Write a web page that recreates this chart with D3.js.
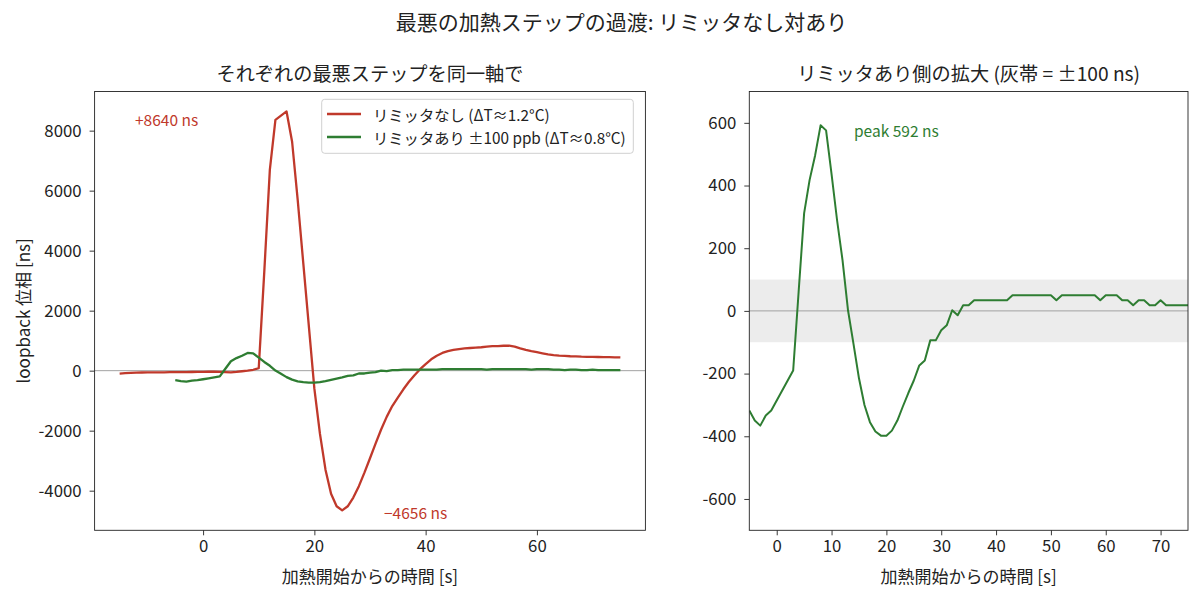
<!DOCTYPE html>
<meta charset="utf-8">
<style>
  body { margin: 0; background: #fff; }
  svg { display: block; }
  text { font-family: "Noto Sans CJK JP", "Noto Sans", sans-serif; fill: #222; }
  .axis text { font-size: 16.8px; }
  .axis path, .axis line { stroke: #222; stroke-width: 0.9px; }
</style>
<script src="https://cdn.jsdelivr.net/npm/d3@7/dist/d3.min.js"></script>
<body>
<svg id="chart" width="1200" height="596"></svg>
<script>
// sample times [s] from heating start
const redTime = d3.range(-15, 76);
const greenTime = d3.range(-5, 76);

// loopback phase [ns], no limiter (dT ~ 1.2 C)
const redValues = [
  -100, -85, -75, -68, -62, -60, -58, -56, -55, -52, -50, -48, -46, -45, -43,
  -40, -36, -33, -38, -48, -55, -40, -20, 0, 30,
  80, 3300, 6700, 8360, 8500, 8640, 7630, 5700, 3600, 1500,
  -600, -2100, -3300, -4100, -4520, -4656, -4520, -4230, -3850, -3400,
  -2920, -2430, -1960, -1540, -1180, -900, -620, -370, -150, 50,
  220, 380, 500, 590, 650, 690, 720, 740, 755, 770,
  780, 800, 820, 815, 830, 835, 800, 740, 690, 650,
  615, 580, 545, 520, 500, 490, 480, 475, 465, 460,
  460, 455, 450, 450, 445, 440
];

// loopback phase [ns], limiter +-100 ppb (dT ~ 0.8 C)
const greenValues = [
  -318, -350, -366, -334, -318,
  -286, -254, -222, -190, 62, 312, 418, 496, 592, 576,
  436, 290, 162, 2, -105, -215, -300, -355, -385, -398,
  -398, -382, -350, -305, -262, -222, -174, -158, -94, -94,
  -62, -46, 2, -14, 18, 18, 34, 34, 34, 34,
  34, 34, 34, 50, 50, 50, 50, 50, 50, 50,
  50, 34, 50, 50, 50, 50, 50, 50, 50, 34,
  50, 50, 50, 34, 34, 18, 34, 34, 18, 18,
  34, 18, 18, 18, 18, 18
];

const seriesNames = ['リミッタなし (ΔT≈1.2°C)', 'リミッタあり ±100 ppb (ΔT≈0.8°C)'];
const leftTicksX = [0, 20, 40, 60];
const leftTicksY = [-4000, -2000, 0, 2000, 4000, 6000, 8000];
const rightTicksX = [0, 10, 20, 30, 40, 50, 60, 70];
const rightTicksY = [-600, -400, -200, 0, 200, 400, 600];
const band = 100;

const red = '#c0392b';
const green = '#2e7d32';

const svg = d3.select('#chart');
const plotTop = 91.5, plotBottom = 530.3;

const redPts = redTime.map((t, i) => [t, redValues[i]]);
const greenPts = greenTime.map((t, i) => [t, greenValues[i]]);

// left panel: both on one axis
const yExt = d3.extent(redValues.concat(greenValues));
const yPad = (yExt[1] - yExt[0]) * 0.05;
const xPad = (75 - (-15)) * 0.05;

const xL = d3.scaleLinear().domain([-15 - xPad, 75 + xPad]).range([94.6, 645.4]);
const yL = d3.scaleLinear().domain([yExt[0] - yPad, yExt[1] + yPad]).range([plotBottom, plotTop]);

const xR = d3.scaleLinear().domain([-5, 75]).range([749.3, 1188]);
const yR = d3.scaleLinear().domain([-700, 700]).range([plotBottom, plotTop]);

function panel(x, y, ticksX, ticksY, title, id) {
  const g = svg.append('g');
  const [x0, x1] = x.range();

  g.append('clipPath').attr('id', id)
    .append('rect').attr('x', x0).attr('y', plotTop).attr('width', x1 - x0).attr('height', plotBottom - plotTop);

  const plot = g.append('g').attr('clip-path', `url(#${id})`);

  g.append('g').attr('class', 'axis')
    .attr('transform', `translate(0,${plotBottom})`)
    .call(d3.axisBottom(x).tickValues(ticksX).tickSize(5).tickPadding(5).tickSizeOuter(0))
    .call(a => a.select('.domain').remove());

  g.append('g').attr('class', 'axis')
    .attr('transform', `translate(${x0},0)`)
    .call(d3.axisLeft(y).tickValues(ticksY).tickSize(5).tickPadding(8).tickSizeOuter(0)
      .tickFormat(d => d < 0 ? '-' + Math.abs(d) : d))
    .call(a => a.select('.domain').remove());

  g.append('rect')
    .attr('x', x0).attr('y', plotTop).attr('width', x1 - x0).attr('height', plotBottom - plotTop)
    .attr('fill', 'none').attr('stroke', '#222').attr('stroke-width', 0.9);

  g.append('text')
    .attr('x', (x0 + x1) / 2).attr('y', 73)
    .attr('text-anchor', 'middle').attr('dominant-baseline', 'central')
    .style('font-size', '19.2px')
    .text(title);

  g.append('text')
    .attr('x', (x0 + x1) / 2).attr('y', 575)
    .attr('text-anchor', 'middle').attr('dominant-baseline', 'central')
    .style('font-size', '17px')
    .text('加熱開始からの時間 [s]');

  return plot;
}

const line = (x, y) => d3.line().x(d => x(d[0])).y(d => y(d[1]));

// left
const pL = panel(xL, yL, leftTicksX, leftTicksY, 'それぞれの最悪ステップを同一軸で', 'clipL');

pL.append('line')
  .attr('x1', xL.range()[0]).attr('x2', xL.range()[1])
  .attr('y1', yL(0)).attr('y2', yL(0))
  .attr('stroke', '#999').attr('stroke-width', 0.9);

pL.append('path').datum(redPts)
  .attr('d', line(xL, yL)).attr('fill', 'none')
  .attr('stroke', red).attr('stroke-width', 2.3).attr('stroke-linejoin', 'round');

pL.append('path').datum(greenPts)
  .attr('d', line(xL, yL)).attr('fill', 'none')
  .attr('stroke', green).attr('stroke-width', 2.3).attr('stroke-linejoin', 'round');

const redMax = d3.max(redValues), redMin = d3.min(redValues);

svg.append('text')
  .attr('x', 135).attr('y', 119)
  .attr('dominant-baseline', 'central')
  .style('font-size', '15.5px').style('fill', red)
  .text(`+${redMax} ns`);

svg.append('text')
  .attr('x', 384).attr('y', 511.5)
  .attr('dominant-baseline', 'central')
  .style('font-size', '15.5px').style('fill', red)
  .text(`\u2212${Math.abs(redMin)} ns`);

svg.append('text')
  .attr('x', 23).attr('y', (plotTop + plotBottom) / 2)
  .attr('transform', `rotate(-90, 23, ${(plotTop + plotBottom) / 2})`)
  .attr('text-anchor', 'middle').attr('dominant-baseline', 'central')
  .style('font-size', '17px')
  .text('loopback 位相 [ns]');

// legend
const lg = svg.append('g');
lg.append('rect')
  .attr('x', 321.7).attr('y', 99.3).attr('width', 311.6).attr('height', 54)
  .attr('rx', 3).attr('fill', 'white').attr('fill-opacity', 0.8)
  .attr('stroke', '#d0d0d0').attr('stroke-width', 1);

[red, green].forEach((c, i) => {
  const yy = 114 + i * 23;
  lg.append('line')
    .attr('x1', 327).attr('x2', 361).attr('y1', yy).attr('y2', yy)
    .attr('stroke', c).attr('stroke-width', 2.3);
  lg.append('text')
    .attr('x', 373).attr('y', yy)
    .attr('dominant-baseline', 'central')
    .style('font-size', '15.3px')
    .text(seriesNames[i]);
});

// right: zoom on limiter trace
const pR = panel(xR, yR, rightTicksX, rightTicksY, 'リミッタあり側の拡大 (灰帯 = ±100 ns)', 'clipR');

pR.append('rect')
  .attr('x', xR.range()[0]).attr('width', xR.range()[1] - xR.range()[0])
  .attr('y', yR(band)).attr('height', yR(-band) - yR(band))
  .attr('fill', '#ececec');

pR.append('line')
  .attr('x1', xR.range()[0]).attr('x2', xR.range()[1])
  .attr('y1', yR(0)).attr('y2', yR(0))
  .attr('stroke', '#999').attr('stroke-width', 0.9);

pR.append('path').datum(greenPts)
  .attr('d', line(xR, yR)).attr('fill', 'none')
  .attr('stroke', green).attr('stroke-width', 2).attr('stroke-linejoin', 'round');

svg.append('text')
  .attr('x', 854).attr('y', 130)
  .attr('dominant-baseline', 'central')
  .style('font-size', '15.5px').style('fill', green)
  .text(`peak ${d3.max(greenValues)} ns`);

// figure title
svg.append('text')
  .attr('x', 621.5).attr('y', 21)
  .attr('text-anchor', 'middle').attr('dominant-baseline', 'central')
  .style('font-size', '21px')
  .text('最悪の加熱ステップの過渡: リミッタなし対あり');
</script>
</body>
